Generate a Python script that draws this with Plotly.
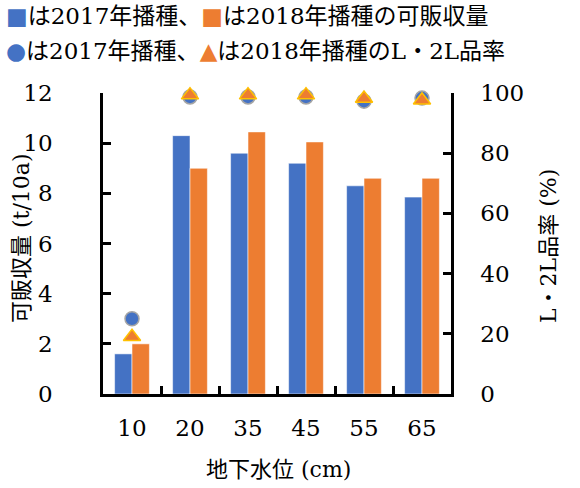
import plotly.graph_objects as go

# Groundwater level categories (cm)
levels = ["10", "20", "35", "45", "55", "65"]

# Marketable yield (t/10a)
yield_2017 = [1.6, 10.3, 9.6, 9.2, 8.3, 7.85]
yield_2018 = [2.0, 9.0, 10.45, 10.05, 8.6, 8.6]

# Share of L and 2L grade (%)
grade_2017 = [25, 98.7, 98.7, 98.7, 97.3, 98.3]
grade_2018 = [19, 99.3, 99.3, 99.3, 98.2, 97.6]

BLUE = "#4472C4"
ORANGE = "#ED7D31"
SERIF = "DejaVu Serif, Noto Sans CJK JP, serif"

fig = go.Figure()

fig.add_trace(go.Bar(
    x=levels, y=yield_2017, marker=dict(color=BLUE, line=dict(color="rgba(255,255,255,0.55)", width=1)),
    yaxis="y", showlegend=False))
fig.add_trace(go.Bar(
    x=levels, y=yield_2018, marker=dict(color=ORANGE, line=dict(color="rgba(255,255,255,0.55)", width=1)),
    yaxis="y", showlegend=False))

fig.add_trace(go.Scatter(
    x=levels, y=grade_2017, yaxis="y2", mode="markers", cliponaxis=False,
    marker=dict(symbol="circle", size=14, color=BLUE, line=dict(color="#A5A5A5", width=1.5)),
    showlegend=False))
fig.add_trace(go.Scatter(
    x=levels, y=grade_2018, yaxis="y2", mode="markers", cliponaxis=False,
    marker=dict(symbol="triangle-up", size=15, color=ORANGE, line=dict(color="#FFC000", width=1.5)),
    showlegend=False))

axis_common = dict(showgrid=False, zeroline=False, showline=True, linecolor="black", linewidth=2.5,
                   ticks="inside", ticklen=8, tickwidth=2.5, tickcolor="black",
                   tickfont=dict(family=SERIF, size=23, color="black"))

fig.update_layout(
    width=580, height=488,
    margin=dict(l=103, r=129, t=93, b=94),
    paper_bgcolor="white", plot_bgcolor="white",
    barmode="group", bargap=0.4, bargroupgap=0,
    font=dict(family=SERIF, color="black"),
    xaxis=dict(**axis_common, type="category", tickson="boundaries", ticklabelstandoff=12),
    yaxis=dict(**axis_common, range=[0, 12], dtick=2, ticklabelstandoff=43),
    yaxis2=dict(**axis_common, range=[0, 100], dtick=20, overlaying="y", side="right",
                ticklabelstandoff=22),
)

# Explanatory key lines above the plot
key_lines = [
    (f"<span style='color:{BLUE}'>■</span>は2017年播種、"
     f"<span style='color:{ORANGE}'>■</span>は2018年播種の可販収量", 16),
    (f"<span style='color:{BLUE}'>●</span>は2017年播種、"
     f"<span style='color:{ORANGE}'>▲</span>は2018年播種のL・2L品率", 51),
]
for text, ypx in key_lines:
    fig.add_annotation(text=text, xref="paper", yref="paper",
                       x=(4 - 103) / 348, y=1 + (93 - ypx) / 301,
                       xanchor="left", yanchor="middle", showarrow=False,
                       font=dict(family=SERIF, size=23, color="black"))

# Axis titles
fig.add_annotation(text="可販収量 (t/10a)", xref="paper", yref="paper",
                   x=(21 - 103) / 348, y=(394 - 238) / 301, textangle=-90,
                   xanchor="center", yanchor="middle", showarrow=False,
                   font=dict(family=SERIF, size=22, color="black"))
fig.add_annotation(text="L・2L品率 (%)", xref="paper", yref="paper",
                   x=(548 - 103) / 348, y=(394 - 246) / 301, textangle=-90,
                   xanchor="center", yanchor="middle", showarrow=False,
                   font=dict(family=SERIF, size=22, color="black"))
fig.add_annotation(text="地下水位 (cm)", xref="paper", yref="paper",
                   x=(278 - 103) / 348, y=-(470 - 394) / 301,
                   xanchor="center", yanchor="middle", showarrow=False,
                   font=dict(family=SERIF, size=22, color="black"))

fig.write_html("out.html")
